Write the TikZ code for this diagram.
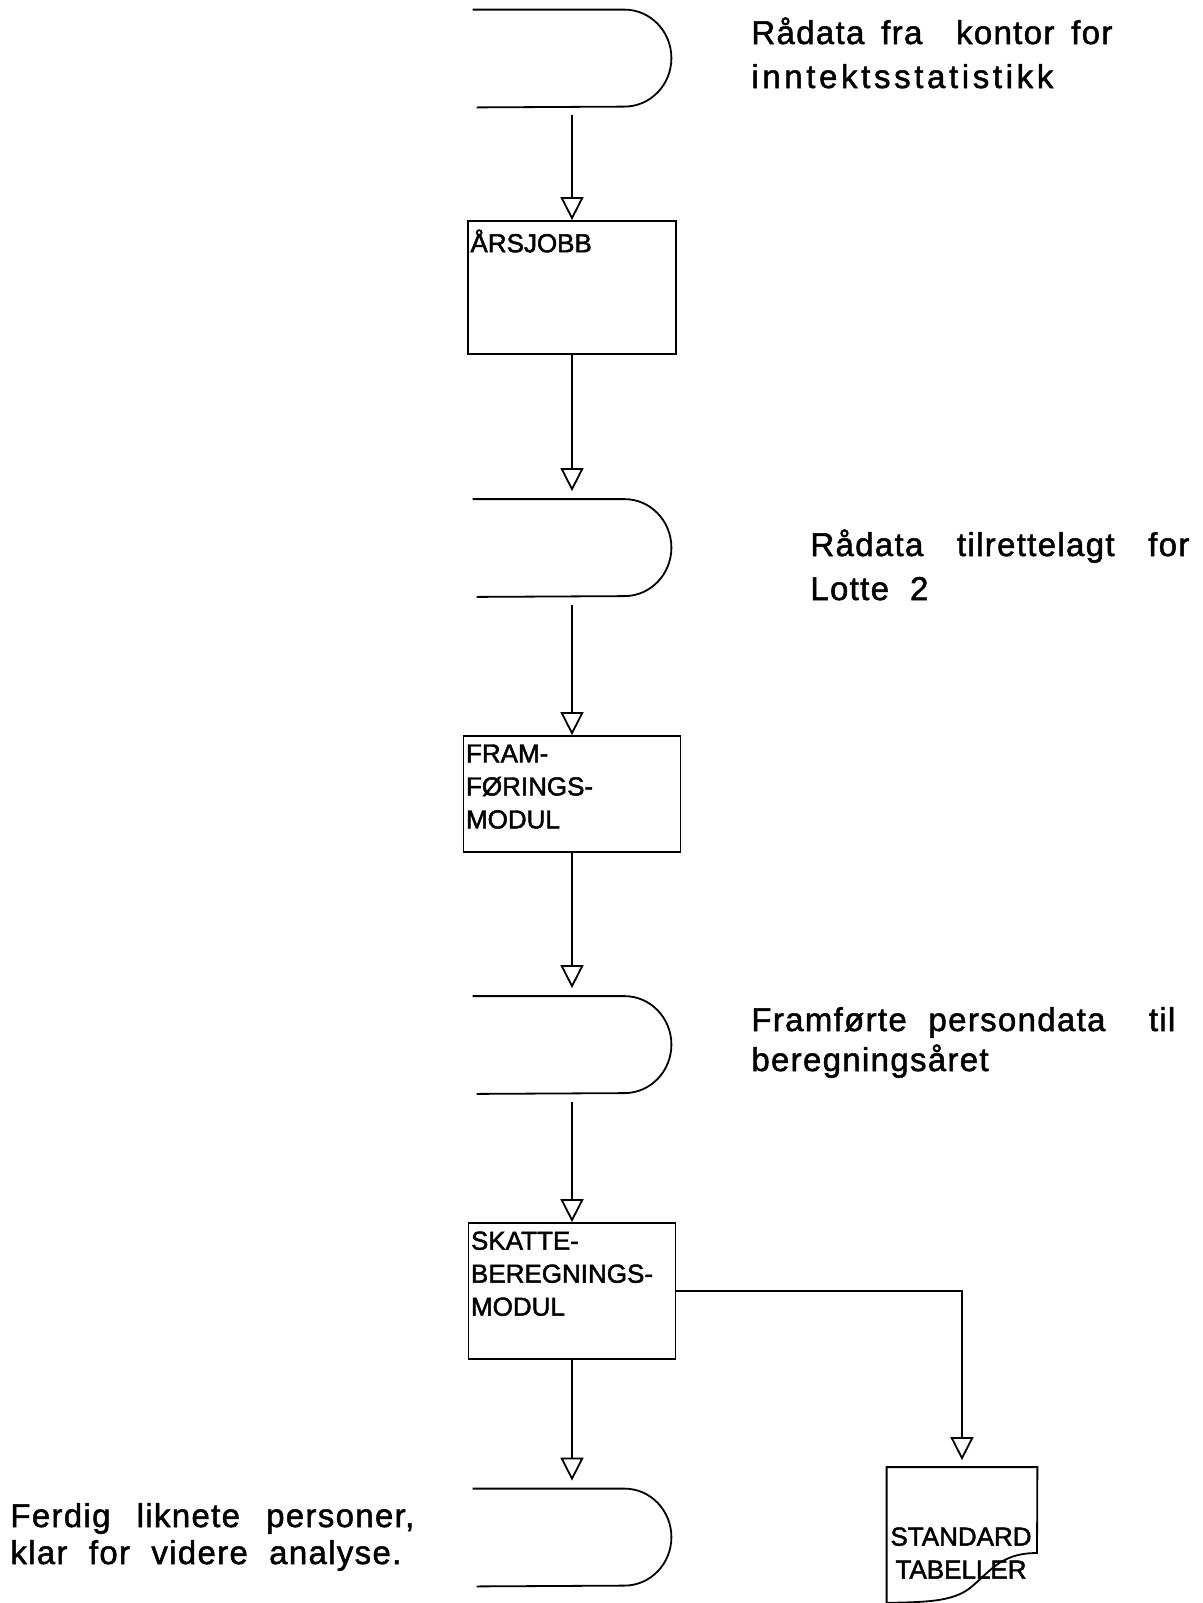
\documentclass[tikz,border=0pt]{standalone}
\usepackage{fontspec}
\setmainfont{Liberation Sans}
\usetikzlibrary{arrows.meta}
\tikzset{pil/.style = {-{Triangle[open,width=11.5pt,length=11.5pt]}, line width=.9pt}}
\tikzset{lager/.style = {inner sep=0, minimum width=99pt, minimum height=48.5pt}}
\tikzset{prosess/.style = {draw, line width=.9pt, inner sep=0}}
\tikzset{boks/.style = {inner xsep=1.5pt, inner ysep=4.5pt, anchor=north west, align=left, font=\fontsize{13}{16.5}\selectfont\addfontfeature{FakeBold=1.8}}}
\tikzset{tekst/.style = {inner sep=0, anchor=base west, font=\fontsize{16.5}{20}\selectfont\addfontfeature{LetterSpace=4,FakeBold=1.5}}}
% open storage symbol drawn round an empty node
\newcommand{\lagerform}[1]{\draw[line width=.9pt] (#1.north west) -- ([xshift=-23.5pt]#1.north east)
  arc[start angle=90, end angle=-90, x radius=23.5pt, y radius=24.25pt] -- ([xshift=2pt]#1.south west);}

\begin{document}
\begin{tikzpicture}[x=.5pt, y=-.5pt]
    \useasboundingbox (0,0) rectangle (1203,1603);
    % lagerfiler
    \node[lager] (s1) at (572,58.5) {};
    \node[lager] (s2) at (572,548) {};
    \node[lager] (s3) at (572,1045) {};
    \node[lager] (s4) at (572,1537.5) {};
    \lagerform{s1}
    \lagerform{s2}
    \lagerform{s3}
    \lagerform{s4}
    % programmoduler
    \node[prosess, minimum width=104pt, minimum height=66.5pt] (b1) at (572,287.5) {};
    \node[boks] (b1t) at (b1.north west) {ÅRSJOBB};
    \node[prosess, minimum width=108.5pt, minimum height=58pt] (b2) at (572,794) {};
    \node[boks] (b2t) at (b2.north west) {FRAM-\\FØRINGS-\\MODUL};
    \node[prosess, minimum width=103.5pt, minimum height=68pt] (b3) at (572,1291) {};
    \node[boks] (b3t) at (b3.north west) {SKATTE-\\BEREGNINGS-\\MODUL};
    % standardtabeller
    \node[inner sep=0, minimum width=75pt, minimum height=67.5pt] (d) at (962,1535) {};
    \draw[line width=.9pt] (d.south west) -- (d.north west) -- (d.north east) -- (1037,1553)
      .. controls (1000,1553) and (990,1572) .. (970,1588)
      .. controls (952,1602) and (925,1602) .. (d.south west);
    \node[inner sep=0, align=center, font=\fontsize{13}{16.5}\selectfont\addfontfeature{FakeBold=1.8}] (dt) at (961,1553) {STANDARD\\TABELLER};
    % piler
    \draw[pil] ([yshift=-4pt]s1.south) -- (b1.north);
    \draw[pil] (b1.south) -- ([yshift=4pt]s2.north);
    \draw[pil] ([yshift=-4pt]s2.south) -- (b2.north);
    \draw[pil] (b2.south) -- ([yshift=4pt]s3.north);
    \draw[pil] ([yshift=-4pt]s3.south) -- (b3.north);
    \draw[pil] (b3.south) -- ([yshift=4pt]s4.north);
    \draw[pil] (b3.east) -| ([yshift=3.5pt]d.north);
    % forklaringer
    \node[tekst] (t1a) at (751,44) {\makebox[180.5pt][s]{Rådata fra\ \ kontor for}};
    \node[tekst] (t1b) at (751,88) {\addfontfeature{LetterSpace=11}inntektsstatistikk};
    \node[tekst] (t2a) at (810,556) {\makebox[189.5pt][s]{Rådata tilrettelagt for}};
    \node[tekst] (t2b) at (810,600) {Lotte\ \ 2};
    \node[tekst] (t3a) at (751,1031) {\makebox[212pt][s]{Framførte persondata\ \ til}};
    \node[tekst] (t3b) at (751,1071) {beregningsåret};
    \node[tekst] (t4a) at (10,1527) {\makebox[202pt][s]{Ferdig liknete personer,}};
    \node[tekst] (t4b) at (10,1564) {\makebox[195.5pt][s]{klar for videre analyse.}};
\end{tikzpicture}
\end{document}
